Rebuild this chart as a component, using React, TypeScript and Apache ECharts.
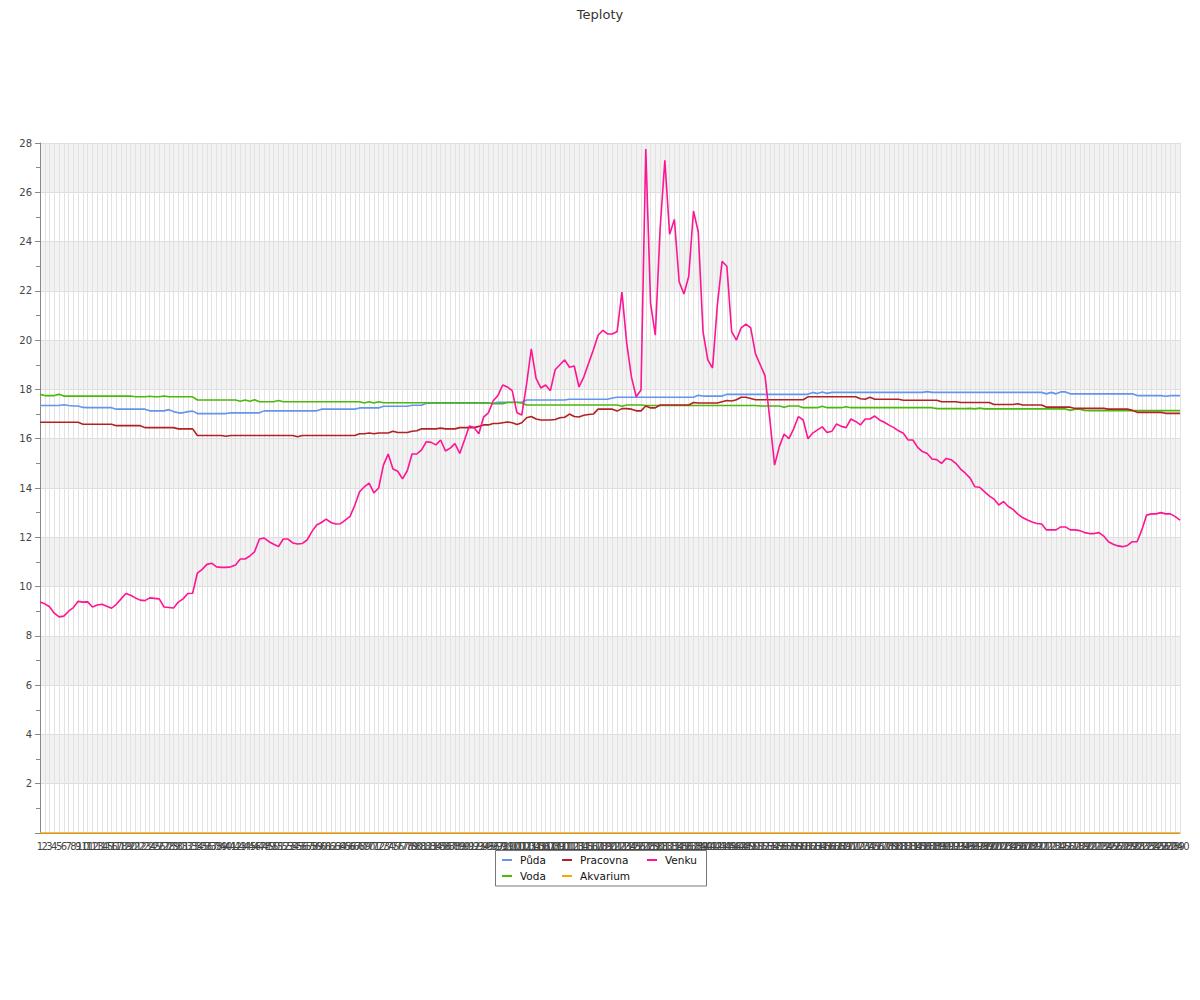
import React, { useEffect, useRef } from "react";
import * as echarts from "echarts";

const categories: string[] = Array.from({ length: 240 }, (_, i) => String(i + 1));

const puda: number[] = [
  17.35, 17.35, 17.35, 17.35, 17.35, 17.38, 17.35, 17.33, 17.33, 17.27,
  17.26, 17.26, 17.26, 17.26, 17.26, 17.26, 17.2, 17.2, 17.2, 17.2,
  17.2, 17.2, 17.2, 17.13, 17.13, 17.13, 17.13, 17.18, 17.1, 17.05,
  17.05, 17.1, 17.12, 17.02, 17.02, 17.02, 17.02, 17.02, 17.02, 17.02,
  17.05, 17.05, 17.05, 17.05, 17.05, 17.05, 17.05, 17.13, 17.13, 17.13,
  17.13, 17.13, 17.13, 17.13, 17.13, 17.13, 17.13, 17.13, 17.13, 17.2,
  17.2, 17.2, 17.2, 17.2, 17.2, 17.2, 17.2, 17.25, 17.25, 17.25,
  17.25, 17.25, 17.32, 17.32, 17.32, 17.32, 17.32, 17.32, 17.36, 17.36,
  17.36, 17.44, 17.44, 17.44, 17.44, 17.44, 17.44, 17.44, 17.44, 17.44,
  17.44, 17.44, 17.44, 17.44, 17.44, 17.44, 17.48, 17.48, 17.48, 17.48,
  17.48, 17.48, 17.57, 17.57, 17.57, 17.57, 17.57, 17.57, 17.57, 17.57,
  17.57, 17.6, 17.6, 17.6, 17.6, 17.6, 17.6, 17.6, 17.6, 17.6,
  17.65, 17.68, 17.68, 17.68, 17.68, 17.68, 17.68, 17.68, 17.68, 17.68,
  17.68, 17.68, 17.68, 17.68, 17.68, 17.68, 17.68, 17.68, 17.76, 17.73,
  17.73, 17.73, 17.73, 17.73, 17.8, 17.8, 17.8, 17.8, 17.8, 17.8,
  17.8, 17.8, 17.8, 17.8, 17.8, 17.8, 17.8, 17.8, 17.8, 17.8,
  17.8, 17.8, 17.88, 17.83, 17.9, 17.84, 17.88, 17.88, 17.88, 17.88,
  17.88, 17.88, 17.88, 17.88, 17.88, 17.88, 17.88, 17.88, 17.88, 17.88,
  17.88, 17.88, 17.88, 17.88, 17.88, 17.88, 17.91, 17.88, 17.88, 17.88,
  17.88, 17.88, 17.88, 17.88, 17.88, 17.88, 17.88, 17.88, 17.88, 17.88,
  17.88, 17.88, 17.88, 17.88, 17.88, 17.88, 17.88, 17.88, 17.88, 17.88,
  17.88, 17.82, 17.88, 17.82, 17.9, 17.9, 17.82, 17.82, 17.82, 17.82,
  17.82, 17.82, 17.82, 17.82, 17.82, 17.82, 17.82, 17.82, 17.82, 17.82,
  17.75, 17.75, 17.75, 17.75, 17.75, 17.75, 17.72, 17.75, 17.75, 17.75,
];

const voda: number[] = [
  17.8, 17.75, 17.75, 17.75, 17.8, 17.73, 17.73, 17.73, 17.73, 17.73,
  17.73, 17.73, 17.73, 17.73, 17.73, 17.73, 17.73, 17.73, 17.73, 17.73,
  17.7, 17.7, 17.7, 17.72, 17.7, 17.7, 17.73, 17.7, 17.7, 17.7,
  17.7, 17.7, 17.7, 17.57, 17.57, 17.57, 17.57, 17.57, 17.57, 17.57,
  17.57, 17.57, 17.52, 17.57, 17.52, 17.58, 17.5, 17.5, 17.5, 17.5,
  17.55, 17.5, 17.5, 17.5, 17.5, 17.5, 17.5, 17.5, 17.5, 17.5,
  17.5, 17.5, 17.5, 17.5, 17.5, 17.5, 17.5, 17.5, 17.45, 17.5,
  17.45, 17.5, 17.46, 17.46, 17.46, 17.46, 17.46, 17.46, 17.46, 17.46,
  17.46, 17.46, 17.46, 17.46, 17.46, 17.46, 17.46, 17.46, 17.46, 17.46,
  17.46, 17.46, 17.46, 17.46, 17.46, 17.42, 17.42, 17.42, 17.47, 17.47,
  17.47, 17.45, 17.37, 17.37, 17.37, 17.37, 17.37, 17.37, 17.37, 17.37,
  17.37, 17.37, 17.37, 17.37, 17.37, 17.37, 17.37, 17.37, 17.37, 17.37,
  17.37, 17.37, 17.32, 17.37, 17.37, 17.37, 17.37, 17.35, 17.35, 17.35,
  17.35, 17.35, 17.35, 17.35, 17.35, 17.35, 17.35, 17.35, 17.35, 17.35,
  17.35, 17.35, 17.35, 17.35, 17.35, 17.35, 17.35, 17.35, 17.35, 17.35,
  17.35, 17.33, 17.33, 17.33, 17.33, 17.33, 17.28, 17.33, 17.33, 17.33,
  17.26, 17.26, 17.26, 17.26, 17.32, 17.26, 17.26, 17.26, 17.26, 17.3,
  17.26, 17.26, 17.26, 17.26, 17.26, 17.26, 17.26, 17.26, 17.26, 17.26,
  17.26, 17.26, 17.26, 17.26, 17.26, 17.26, 17.26, 17.26, 17.22, 17.22,
  17.22, 17.22, 17.22, 17.22, 17.22, 17.23, 17.21, 17.24, 17.21, 17.21,
  17.21, 17.21, 17.21, 17.21, 17.21, 17.21, 17.21, 17.21, 17.21, 17.21,
  17.21, 17.21, 17.21, 17.21, 17.21, 17.21, 17.15, 17.2, 17.2, 17.15,
  17.14, 17.14, 17.14, 17.14, 17.14, 17.14, 17.14, 17.14, 17.14, 17.14,
  17.14, 17.14, 17.14, 17.14, 17.14, 17.14, 17.14, 17.14, 17.14, 17.14,
];

const pracovna: number[] = [
  16.67, 16.67, 16.67, 16.67, 16.67, 16.67, 16.67, 16.67, 16.67, 16.59,
  16.59, 16.59, 16.59, 16.59, 16.59, 16.59, 16.53, 16.53, 16.53, 16.53,
  16.53, 16.53, 16.45, 16.45, 16.45, 16.45, 16.45, 16.45, 16.45, 16.4,
  16.4, 16.4, 16.4, 16.13, 16.13, 16.13, 16.13, 16.13, 16.13, 16.1,
  16.13, 16.13, 16.13, 16.13, 16.13, 16.13, 16.13, 16.13, 16.13, 16.13,
  16.13, 16.13, 16.13, 16.13, 16.08, 16.13, 16.13, 16.13, 16.13, 16.13,
  16.13, 16.13, 16.13, 16.13, 16.13, 16.13, 16.13, 16.2, 16.2, 16.23,
  16.2, 16.23, 16.23, 16.23, 16.3, 16.25, 16.25, 16.25, 16.3, 16.32,
  16.4, 16.4, 16.4, 16.4, 16.43, 16.4, 16.4, 16.4, 16.45, 16.45,
  16.45, 16.45, 16.5, 16.56, 16.56, 16.62, 16.62, 16.65, 16.68, 16.65,
  16.58, 16.65, 16.85, 16.9, 16.8, 16.76, 16.76, 16.76, 16.78, 16.85,
  16.87, 17.0, 16.9, 16.88, 16.95, 16.98, 17.0, 17.2, 17.2, 17.2,
  17.2, 17.12, 17.22, 17.22, 17.2, 17.13, 17.13, 17.33, 17.25, 17.25,
  17.37, 17.37, 17.37, 17.37, 17.37, 17.37, 17.37, 17.47, 17.45, 17.45,
  17.45, 17.45, 17.45, 17.5, 17.55, 17.53, 17.58, 17.68, 17.68, 17.63,
  17.58, 17.58, 17.58, 17.58, 17.58, 17.58, 17.58, 17.58, 17.58, 17.58,
  17.58, 17.7, 17.7, 17.7, 17.7, 17.7, 17.7, 17.7, 17.7, 17.7,
  17.7, 17.7, 17.62, 17.6, 17.68, 17.6, 17.6, 17.6, 17.6, 17.6,
  17.6, 17.56, 17.56, 17.56, 17.56, 17.56, 17.56, 17.56, 17.56, 17.5,
  17.5, 17.5, 17.5, 17.47, 17.47, 17.47, 17.47, 17.47, 17.47, 17.47,
  17.39, 17.39, 17.39, 17.39, 17.39, 17.42, 17.37, 17.37, 17.37, 17.37,
  17.37, 17.28, 17.28, 17.28, 17.28, 17.28, 17.28, 17.23, 17.23, 17.23,
  17.23, 17.23, 17.23, 17.23, 17.2, 17.2, 17.2, 17.2, 17.2, 17.15,
  17.07, 17.07, 17.07, 17.07, 17.07, 17.07, 17.03, 17.03, 17.03, 17.03,
];

const akvarium: number[] = [
  0, 0, 0, 0, 0, 0, 0, 0, 0, 0, 0, 0, 0, 0, 0, 0, 0, 0, 0, 0,
  0, 0, 0, 0, 0, 0, 0, 0, 0, 0, 0, 0, 0, 0, 0, 0, 0, 0, 0, 0,
  0, 0, 0, 0, 0, 0, 0, 0, 0, 0, 0, 0, 0, 0, 0, 0, 0, 0, 0, 0,
  0, 0, 0, 0, 0, 0, 0, 0, 0, 0, 0, 0, 0, 0, 0, 0, 0, 0, 0, 0,
  0, 0, 0, 0, 0, 0, 0, 0, 0, 0, 0, 0, 0, 0, 0, 0, 0, 0, 0, 0,
  0, 0, 0, 0, 0, 0, 0, 0, 0, 0, 0, 0, 0, 0, 0, 0, 0, 0, 0, 0,
  0, 0, 0, 0, 0, 0, 0, 0, 0, 0, 0, 0, 0, 0, 0, 0, 0, 0, 0, 0,
  0, 0, 0, 0, 0, 0, 0, 0, 0, 0, 0, 0, 0, 0, 0, 0, 0, 0, 0, 0,
  0, 0, 0, 0, 0, 0, 0, 0, 0, 0, 0, 0, 0, 0, 0, 0, 0, 0, 0, 0,
  0, 0, 0, 0, 0, 0, 0, 0, 0, 0, 0, 0, 0, 0, 0, 0, 0, 0, 0, 0,
  0, 0, 0, 0, 0, 0, 0, 0, 0, 0, 0, 0, 0, 0, 0, 0, 0, 0, 0, 0,
  0, 0, 0, 0, 0, 0, 0, 0, 0, 0, 0, 0, 0, 0, 0, 0, 0, 0, 0, 0,
];

const venku: number[] = [
  9.37, 9.3, 9.18, 8.92, 8.77, 8.8, 9.0, 9.15, 9.4, 9.37,
  9.38, 9.17, 9.25, 9.28, 9.2, 9.12, 9.28, 9.5, 9.72, 9.65,
  9.54, 9.45, 9.43, 9.54, 9.52, 9.5, 9.17, 9.15, 9.13, 9.37,
  9.5, 9.72, 9.73, 10.55, 10.7, 10.9, 10.95, 10.8, 10.78, 10.78,
  10.8, 10.88, 11.12, 11.12, 11.24, 11.42, 11.93, 11.97, 11.82, 11.72,
  11.62, 11.93, 11.93, 11.77, 11.73, 11.75, 11.89, 12.23, 12.5, 12.6,
  12.74, 12.6, 12.54, 12.55, 12.7, 12.85, 13.3, 13.85, 14.05, 14.2,
  13.8, 14.0, 14.93, 15.38, 14.77, 14.68, 14.37, 14.7, 15.38, 15.38,
  15.55, 15.88, 15.85, 15.75, 15.95, 15.5, 15.62, 15.8, 15.4, 15.95,
  16.52, 16.45, 16.2, 16.88, 17.05, 17.53, 17.75, 18.18, 18.1, 17.95,
  17.05, 16.96, 18.2, 19.65, 18.45, 18.06, 18.18, 17.95, 18.8, 19.0,
  19.2, 18.9, 18.95, 18.1, 18.5, 19.05, 19.6, 20.2, 20.4, 20.25,
  20.25, 20.35, 21.95, 19.88, 18.5, 17.7, 17.98, 27.76, 21.5, 20.2,
  24.5, 27.3, 24.3, 24.9, 22.37, 21.87, 22.58, 25.24, 24.4, 20.35,
  19.2, 18.87, 21.4, 23.2, 23.0, 20.35, 20.0, 20.5, 20.65, 20.5,
  19.44, 19.0, 18.55, 16.8, 14.93, 15.68, 16.19, 16.0, 16.4, 16.9,
  16.76, 16.0, 16.23, 16.36, 16.48, 16.25, 16.3, 16.6, 16.5, 16.45,
  16.8, 16.7, 16.56, 16.8, 16.8, 16.92, 16.76, 16.67, 16.55, 16.45,
  16.32, 16.22, 15.95, 15.95, 15.65, 15.48, 15.4, 15.18, 15.15, 15.0,
  15.2, 15.15, 15.0, 14.77, 14.6, 14.4, 14.05, 14.03, 13.85, 13.68,
  13.55, 13.31, 13.45, 13.25, 13.13, 12.94, 12.8, 12.7, 12.62, 12.56,
  12.54, 12.3, 12.3, 12.3, 12.42, 12.42, 12.3, 12.3, 12.27, 12.19,
  12.15, 12.15, 12.19, 12.05, 11.82, 11.72, 11.65, 11.62, 11.67, 11.82,
  11.82, 12.3, 12.9, 12.95, 12.95, 13.0, 12.95, 12.95, 12.84, 12.7,
];

const FONT = "DejaVu Sans";

const seriesDefs = [
  { name: "Půda", data: puda, color: "#6495ed" },
  { name: "Voda", data: voda, color: "#4cb80b" },
  { name: "Pracovna", data: pracovna, color: "#b22222" },
  { name: "Akvarium", data: akvarium, color: "#ffa500" },
  { name: "Venku", data: venku, color: "#ff1493" },
];

const legendPlaces: { name: string; left: number; top: number }[] = [
  { name: "Půda", left: 502, top: 853 },
  { name: "Pracovna", left: 562, top: 853 },
  { name: "Venku", left: 647, top: 853 },
  { name: "Voda", left: 502, top: 869 },
  { name: "Akvarium", left: 562, top: 869 },
];

export default function App() {
  const ref = useRef<HTMLDivElement>(null);
  useEffect(() => {
    if (!ref.current) return;
    const chart = echarts.init(ref.current, undefined, { renderer: "svg" });
    chart.setOption({
      animation: false,
      backgroundColor: "#ffffff",
      textStyle: { fontFamily: FONT },
      title: {
        text: "Teploty",
        left: "center",
        top: 3,
        textStyle: { fontFamily: FONT, fontSize: 13, fontWeight: "normal", color: "#333" },
      },
      legend: legendPlaces.map((p) => ({
        data: [p.name],
        left: p.left,
        top: p.top,
        padding: 0,
        icon: "rect",
        itemWidth: 10,
        itemHeight: 2,
        selectedMode: false,
        textStyle: { fontFamily: FONT, fontSize: 10.5, color: "#111", lineHeight: 14, padding: [0, 0, 0, 3] },
      })),
      graphic: [
        {
          type: "rect",
          shape: { x: 495.5, y: 850.5, width: 211, height: 35.5 },
          style: { fill: "none", stroke: "#777", lineWidth: 1 },
          silent: true,
        },
      ],
      grid: { left: 40, right: 20, top: 143, bottom: 167, containLabel: false },
      xAxis: {
        type: "category",
        data: categories,
        boundaryGap: false,
        axisLine: { show: true, lineStyle: { color: "#888", width: 1 } },
        axisTick: { show: false },
        axisLabel: {
          interval: 0,
          hideOverlap: false,
          fontSize: 10,
          color: "#444",
          margin: 8,
          fontFamily: FONT,
        },
        splitLine: { show: true, interval: 0, lineStyle: { color: "#e2e2e2", width: 1 } },
      },
      yAxis: {
        type: "value",
        min: 0,
        max: 28,
        interval: 2,
        axisLine: { show: true, lineStyle: { color: "#888", width: 1 } },
        axisTick: { show: true, length: 5, lineStyle: { color: "#888" } },
        minorTick: { show: true, splitNumber: 2, length: 4, lineStyle: { color: "#888" } },
        axisLabel: {
          fontSize: 10,
          color: "#444",
          margin: 8,
          showMinLabel: false,
          fontFamily: FONT,
        },
        splitLine: { show: true, lineStyle: { color: "#dedede", width: 1 } },
        splitArea: { show: true, areaStyle: { color: ["#ffffff", "#f2f2f2"] } },
      },
      series: seriesDefs.map((s) => ({
        name: s.name,
        type: "line",
        data: s.data,
        symbol: "none",
        showSymbol: false,
        color: s.color,
        lineStyle: { color: s.color, width: 1.6 },
        itemStyle: { color: s.color },
        emphasis: { disabled: true },
      })),
    });
    return () => chart.dispose();
  }, []);
  return (
    <div
      ref={ref}
      style={{ position: "absolute", left: 0, top: 0, width: 1200, height: 1000 }}
    />
  );
}
